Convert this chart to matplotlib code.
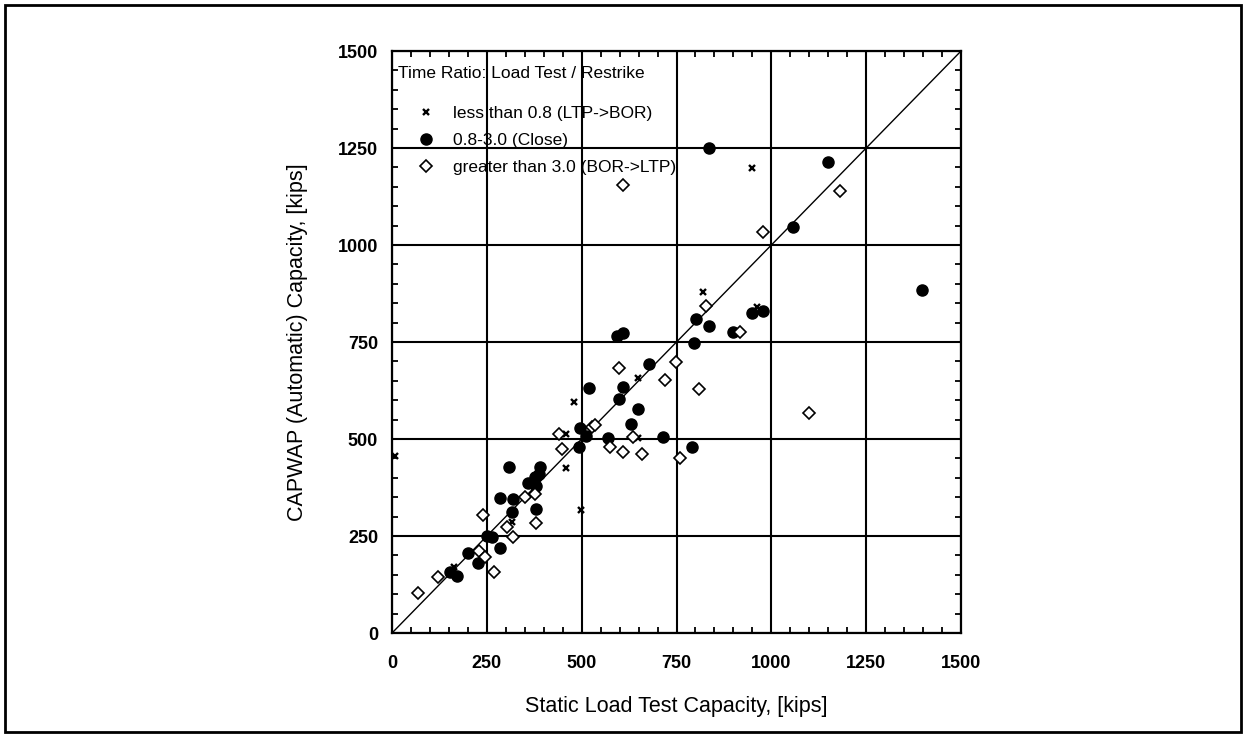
import matplotlib
matplotlib.use("Agg")
import matplotlib.pyplot as plt
from matplotlib.patches import Rectangle

plt.rcParams['font.family'] = ['Liberation Sans', 'DejaVu Sans']

# Time ratio < 0.8 (LTP->BOR)
less_x = [8, 163, 316, 459, 459, 480, 498, 649, 649, 820, 949, 962]
less_y = [456, 170, 286, 513, 425, 595, 317, 657, 503, 879, 1198, 840]

# Time ratio 0.8-3.0 (Close)
close_x = [153, 171, 200, 227, 250, 263, 285, 308, 285, 320, 316, 380, 359, 377,
           380, 388, 390, 493, 496, 511, 570, 519, 593, 609, 598, 609, 630, 649,
           678, 714, 791, 796, 801, 836, 899, 949, 978, 836, 1057, 1150, 1397]
close_y = [157, 147, 206, 180, 250, 248, 219, 428, 348, 345, 312, 320, 387, 402,
           379, 410, 428, 479, 528, 508, 502, 631, 765, 773, 603, 634, 539, 577,
           693, 505, 479, 747, 809, 791, 776, 825, 830, 1250, 1046, 1214, 884]

# Time ratio > 3.0 (BOR->LTP)
great_x = [69, 121, 229, 245, 269, 240, 302, 320, 351, 377, 380, 440, 448, 527,
           535, 575, 598, 609, 609, 635, 659, 720, 749, 759, 809, 828, 917, 978,
           1099, 1181]
great_y = [103, 144, 211, 196, 157, 304, 273, 248, 351, 358, 284, 513, 474, 531,
           536, 479, 683, 466, 1155, 505, 461, 652, 698, 451, 629, 843, 776, 1034,
           567, 1139]

ticks = [0, 250, 500, 750, 1000, 1250, 1500]

fig = plt.figure(figsize=(12.46, 7.36), dpi=100)
ax = fig.add_axes([0.3146, 0.1399, 0.4567, 0.7908])

ax.plot([0, 1500], [0, 1500], color='black', lw=1.0, zorder=2)

ax.plot(less_x, less_y, 'x', color='black', ms=4.5, mew=1.7, ls='none',
        label='less than 0.8 (LTP->BOR)', zorder=3)
ax.plot(close_x, close_y, 'o', color='black', ms=8, ls='none',
        label='0.8-3.0 (Close)', zorder=3)
ax.plot(great_x, great_y, 'D', mfc='white', mec='black', ms=6, mew=1.2, ls='none',
        label='greater than 3.0 (BOR->LTP)', zorder=4)

ax.set_xlim(0, 1500)
ax.set_ylim(0, 1500)
ax.set_xticks(ticks)
ax.set_yticks(ticks)
ax.set_xticks(range(0, 1501, 50), minor=True)
ax.set_yticks(range(0, 1501, 50), minor=True)
ax.grid(True, which='major', color='black', lw=1.5)
ax.set_axisbelow(True)
ax.tick_params(which='both', direction='in', top=True, right=True, width=1.3)
ax.tick_params(which='major', length=7)
ax.tick_params(which='minor', length=4)
ax.tick_params(axis='x', pad=16)
ax.tick_params(axis='y', pad=10)
for lab in ax.get_xticklabels() + ax.get_yticklabels():
    lab.set_fontweight('bold')
    lab.set_fontsize(13)
for sp in ax.spines.values():
    sp.set_linewidth(1.6)

ax.set_xlabel('Static Load Test Capacity, [kips]', fontsize=15.5)
ax.set_ylabel('CAPWAP (Automatic) Capacity, [kips]', fontsize=15.5)
ax.xaxis.set_label_coords(0.5, -0.108)
ax.yaxis.set_label_coords(-0.148, 0.5)

# legend title drawn separately so the gap below it matches
ax.text(0.0105, 0.961, 'Time Ratio: Load Test / Restrike', transform=ax.transAxes,
        fontsize=12.5, va='center', ha='left', zorder=5)
leg = ax.legend(loc='upper left', frameon=False, fontsize=12.5,
                handletextpad=0.38, labelspacing=0.68, borderpad=0.4,
                borderaxespad=0, handlelength=2.4, bbox_to_anchor=(0.011, 0.918))

fig.patches.append(Rectangle((0.004, 0.006), 0.992, 0.987, transform=fig.transFigure,
                             fill=False, edgecolor='black', lw=2))

fig.savefig('out.png', dpi=100)
